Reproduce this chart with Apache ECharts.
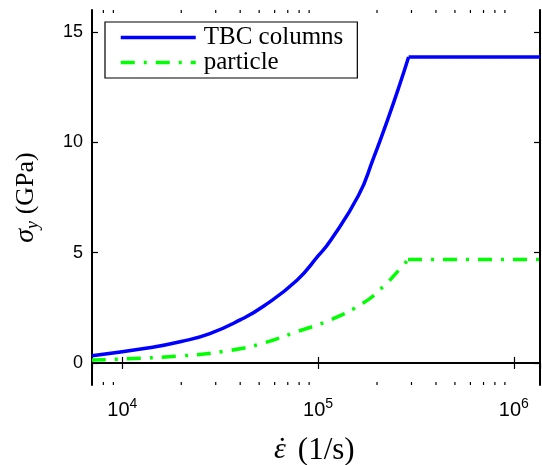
<!DOCTYPE html>
<html>
<head>
<meta charset="utf-8">
<script src="https://cdn.jsdelivr.net/npm/echarts@6.0.0/dist/echarts.min.js"></script>
<style>
  body { margin: 0; background: #fff; }
  #chart { width: 542px; height: 465px; }
</style>
</head>
<body>
<div id="chart"></div>
<script>
// 读图得到的数据 (strain rate 1/s, yield stress GPa)
const tbcRate = [7000, 14000, 20000, 28000, 40000, 52600, 78000, 100000, 116000, 161000, 190000, 226000, 263000, 290000];
const tbcSigma = [0.33, 0.70, 0.97, 1.33, 1.95, 2.57, 3.75, 4.85, 5.56, 7.6, 9.18, 11.0, 12.7, 13.87];
const tbcFlatRate = [290000, 1360000];
const tbcFlatSigma = [13.87, 13.87];

const partRate = [7000, 20000, 35700, 52600, 78000, 115600, 170000, 215000, 263000, 288000];
const partSigma = [0.13, 0.32, 0.57, 0.9, 1.42, 1.95, 2.72, 3.46, 4.28, 4.69];
const partFlatRate = [288000, 1360000];
const partFlatSigma = [4.69, 4.69];

const yTicks = [0, 5, 10, 15];
const xMinorTicks = [8000, 9000, 20000, 30000, 40000, 50000, 60000, 70000, 80000, 90000,
  200000, 300000, 400000, 500000, 600000, 700000, 800000, 900000];

const xMin = 7000, xMax = 1360000, yMin = -1, yMax = 16;

function pairs(xs, ys) {
  return xs.map((x, i) => [x, ys[i]]);
}

const serif = "'Liberation Serif', 'DejaVu Serif', serif";
const sans = "'Liberation Sans', Arial, sans-serif";
const blueLine = { color: '#0000ff', width: 3.5 };
const greenLine = { color: '#00ff00', width: 3.5, type: [14, 9, 3, 9] };

const chart = echarts.init(document.getElementById('chart'));

const option = {
  animation: false,
  backgroundColor: '#fff',
  // 固定绘图区, 不让名字挤压网格
  grid: { left: 92, right: 2, top: 10, bottom: 80, outerBoundsMode: 'none', containLabel: false },
  legend: {
    data: ['TBC columns', 'particle'],
    orient: 'vertical',
    left: 105,
    top: 22,
    padding: [3, 14, 3, 14],
    itemGap: 0,
    itemWidth: 75,
    itemHeight: 20,
    borderColor: '#000',
    borderWidth: 1.2,
    borderRadius: 0,
    backgroundColor: '#fff',
    itemStyle: { opacity: 0 },
    lineStyle: { width: 3.5 },
    textStyle: { fontFamily: serif, fontSize: 25, lineHeight: 24, color: '#000', padding: [0, 0, 0, 3] }
  },
  xAxis: [
    {
      type: 'log',
      logBase: 10,
      min: xMin,
      max: xMax,
      position: 'bottom',
      // ε 的 token 宽度收窄, 让点落在 ε 上方
      name: '{e|ε}{d|˙}{n|  (1/s)}',
      nameLocation: 'middle',
      nameGap: 50,
      nameTextStyle: {
        rich: {
          e: { fontFamily: serif, fontStyle: 'italic', fontSize: 30, width: 5, color: '#000' },
          d: { fontFamily: serif, fontSize: 30, width: 0.001, color: '#000' },
          n: { fontFamily: serif, fontSize: 31, color: '#000' }
        }
      },
      axisLine: { show: true, lineStyle: { color: '#000', width: 2 } },
      axisTick: { show: true, inside: true, length: 6, lineStyle: { color: '#000', width: 1.2 } },
      splitLine: { show: false },
      axisLabel: {
        showMinLabel: false,
        showMaxLabel: false,
        margin: 12,
        formatter: function (v) {
          return '{b|10}{s|' + Math.round(Math.log10(v)) + '}';
        },
        rich: {
          b: { fontFamily: sans, fontSize: 20, lineHeight: 26, color: '#000' },
          s: { fontFamily: sans, fontSize: 14, lineHeight: 14, verticalAlign: 'top', color: '#000' }
        }
      }
    },
    {
      type: 'log',
      logBase: 10,
      min: xMin,
      max: xMax,
      position: 'top',
      axisLine: { show: true, lineStyle: { color: '#000', width: 2 } },
      axisTick: { show: true, inside: true, length: 6, lineStyle: { color: '#000', width: 1.2 } },
      axisLabel: { show: false },
      splitLine: { show: false }
    }
  ],
  yAxis: [
    {
      type: 'value',
      min: yMin,
      max: yMax,
      splitNumber: 3,
      position: 'left',
      name: '{s|σ}{sub|y}  {n|(GPa)}',
      nameLocation: 'middle',
      nameRotate: 90,
      nameGap: 50,
      nameTextStyle: {
        rich: {
          s: { fontFamily: serif, fontStyle: 'italic', fontSize: 28, lineHeight: 32, color: '#000' },
          sub: { fontFamily: serif, fontStyle: 'italic', fontSize: 18, lineHeight: 18, verticalAlign: 'bottom', color: '#000' },
          n: { fontFamily: serif, fontSize: 26, lineHeight: 32, color: '#000' }
        }
      },
      axisLine: { show: true, lineStyle: { color: '#000', width: 2 } },
      axisTick: { show: true, inside: true, length: 6, customValues: yTicks, lineStyle: { color: '#000', width: 1.2 } },
      splitLine: { show: false },
      axisLabel: {
        customValues: yTicks,
        margin: 9,
        fontFamily: sans,
        fontSize: 18,
        color: '#000'
      }
    },
    {
      type: 'value',
      min: yMin,
      max: yMax,
      splitNumber: 3,
      position: 'right',
      axisLine: { show: true, lineStyle: { color: '#000', width: 2 } },
      axisTick: { show: true, inside: true, length: 6, customValues: yTicks, lineStyle: { color: '#000', width: 1.2 } },
      axisLabel: { show: false },
      splitLine: { show: false }
    }
  ],
  series: [
    {
      name: 'TBC columns',
      type: 'line',
      data: pairs(tbcRate, tbcSigma),
      symbol: 'none',
      smooth: 0.5,
      lineStyle: blueLine,
      itemStyle: { color: '#0000ff' }
    },
    {
      name: 'TBC columns',
      type: 'line',
      data: pairs(tbcFlatRate, tbcFlatSigma),
      symbol: 'none',
      lineStyle: blueLine,
      itemStyle: { color: '#0000ff' }
    },
    {
      name: 'particle',
      type: 'line',
      data: pairs(partRate, partSigma),
      symbol: 'none',
      smooth: 0.5,
      lineStyle: greenLine,
      itemStyle: { color: '#00ff00' }
    },
    {
      name: 'particle',
      type: 'line',
      data: pairs(partFlatRate, partFlatSigma),
      symbol: 'none',
      lineStyle: greenLine,
      itemStyle: { color: '#00ff00' }
    },
    {
      // 对数轴的小刻度 (上下两边)
      type: 'custom',
      silent: true,
      clip: false,
      data: xMinorTicks.map(v => [v, 0]),
      renderItem: function (params, api) {
        const v = api.value(0);
        const pb = api.coord([v, yMin]);
        const pt = api.coord([v, yMax]);
        const st = { stroke: '#000', lineWidth: 1.2 };
        return {
          type: 'group',
          children: [
            { type: 'line', shape: { x1: pb[0], y1: pb[1], x2: pb[0], y2: pb[1] - 3 }, style: st },
            { type: 'line', shape: { x1: pt[0], y1: pt[1], x2: pt[0], y2: pt[1] + 3 }, style: st }
          ]
        };
      }
    }
  ]
};

chart.setOption(option);
</script>
</body>
</html>
